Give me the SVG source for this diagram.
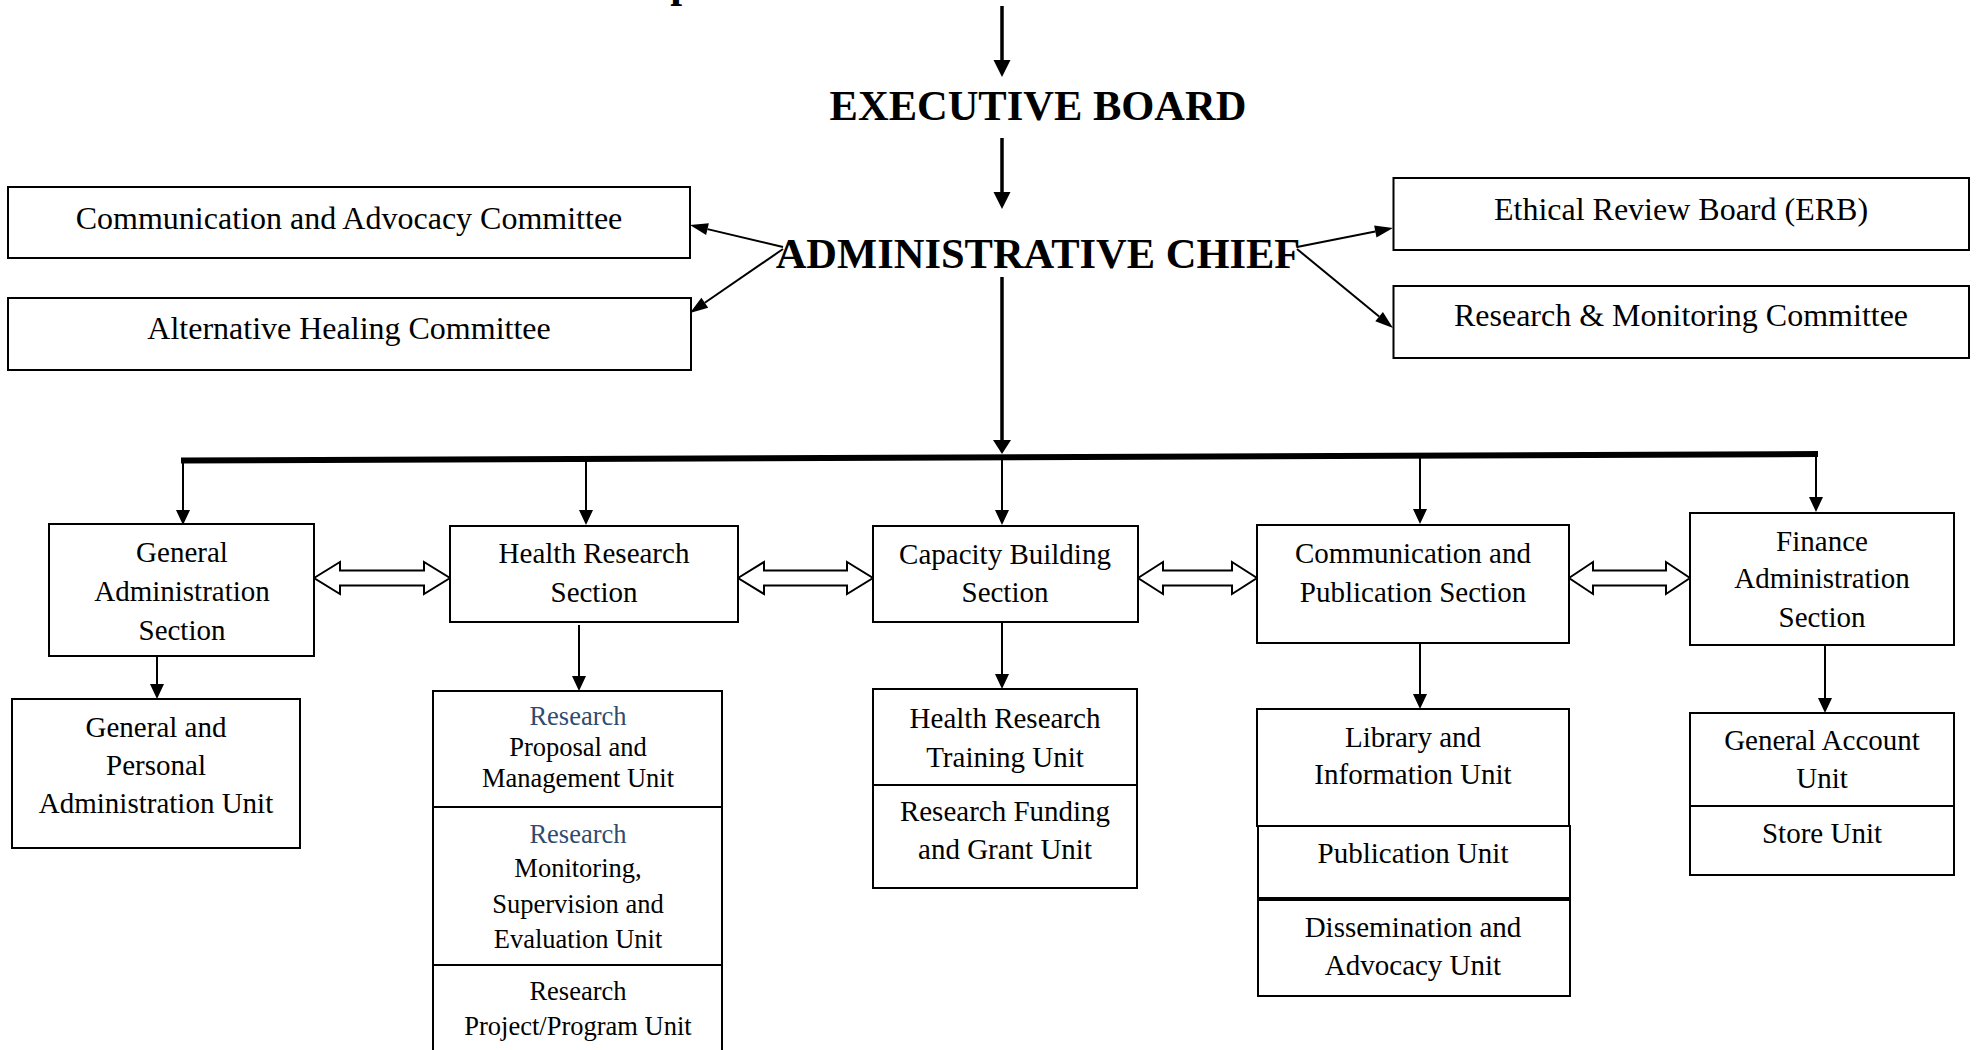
<svg xmlns="http://www.w3.org/2000/svg" width="1981" height="1050" viewBox="0 0 1981 1050">
<defs>
<style>
text{font-family:"Liberation Serif","Times New Roman",serif;fill:#000;text-anchor:middle}
.tb{font-size:42.5px;font-weight:bold}
.t32{font-size:32px}
.t29{font-size:29px}
.t26{font-size:26.5px}
.blue{fill:#2F4B6E}
.box{fill:#fff;stroke:#000;stroke-width:2}
.ln{fill:none;stroke:#000;stroke-width:2}
.lnk{fill:none;stroke:#000;stroke-width:3.5}
.bar{fill:none;stroke:#000;stroke-width:6}
.dbl{fill:#fff;stroke:#000;stroke-width:2;stroke-linejoin:miter}
</style>
<marker id="ah" markerUnits="userSpaceOnUse" viewBox="0 0 15 14" markerWidth="15" markerHeight="14" refX="0" refY="7" orient="auto" overflow="visible"><path d="M0,0 L15,7 L0,14 z" fill="#000"/></marker>
<marker id="ahd" markerUnits="userSpaceOnUse" viewBox="0 0 18 12" markerWidth="18" markerHeight="12" refX="0" refY="6" orient="auto" overflow="visible"><path d="M0,0 L18,6 L0,12 z" fill="#000"/></marker>
<marker id="ahk" markerUnits="userSpaceOnUse" viewBox="0 0 17 17" markerWidth="17" markerHeight="17" refX="0" refY="8.5" orient="auto" overflow="visible"><path d="M0,0 L17,8.5 L0,17 z" fill="#000"/></marker>
<marker id="ahm" markerUnits="userSpaceOnUse" viewBox="0 0 14 18" markerWidth="14" markerHeight="18" refX="0" refY="9" orient="auto" overflow="visible"><path d="M0,0 L14,9 L0,18 z" fill="#000"/></marker>
</defs>

<text class="tb" x="682" y="-3">p</text>

<g id="connectors">
<path class="lnk" d="M1002,6 V60" marker-end="url(#ahk)"/>
<path class="lnk" d="M1002,138 V192" marker-end="url(#ahk)"/>
<path class="lnk" d="M1002,277 V440" marker-end="url(#ahm)"/>
<path class="ln" d="M783,247 L707.5,229.1" marker-end="url(#ahd)"/>
<path class="ln" d="M783,249 L704.8,302.8" marker-end="url(#ahd)"/>
<path class="ln" d="M1297,247 L1375.3,231.5" marker-end="url(#ahd)"/>
<path class="ln" d="M1297,249 L1379.1,316.6" marker-end="url(#ahd)"/>
<path class="bar" d="M181,460.5 L1818,454"/>
<path class="ln" d="M183,460 V510" marker-end="url(#ah)"/>
<path class="ln" d="M586,459 V510" marker-end="url(#ah)"/>
<path class="ln" d="M1002,457 V510" marker-end="url(#ah)"/>
<path class="ln" d="M1420,455 V509" marker-end="url(#ah)"/>
<path class="ln" d="M1816,453 V497" marker-end="url(#ah)"/>
<path class="ln" d="M157,656 V684" marker-end="url(#ah)"/>
<path class="ln" d="M579,625 V676" marker-end="url(#ah)"/>
<path class="ln" d="M1002,622 V674" marker-end="url(#ah)"/>
<path class="ln" d="M1420,643 V694" marker-end="url(#ah)"/>
<path class="ln" d="M1825,645 V698" marker-end="url(#ah)"/>
<polygon class="dbl" points="314,578 340,562 340,570.5 424,570.5 424,562 450,578 424,594 424,585.5 340,585.5 340,594"/>
<polygon class="dbl" points="738,578 764,562 764,570.5 847,570.5 847,562 873,578 847,594 847,585.5 764,585.5 764,594"/>
<polygon class="dbl" points="1138,578 1163,562 1163,570.5 1232,570.5 1232,562 1257,578 1232,594 1232,585.5 1163,585.5 1163,594"/>
<polygon class="dbl" points="1569,578 1593,562 1593,570.5 1666,570.5 1666,562 1690,578 1666,594 1666,585.5 1593,585.5 1593,594"/>
</g>

<g id="executive-board">
<text class="tb" x="1038" y="120">EXECUTIVE BOARD</text>
</g>
<g id="administrative-chief">
<text class="tb" x="1038" y="268">ADMINISTRATIVE CHIEF</text>
</g>

<g id="comm-advocacy-committee">
<rect class="box" x="8" y="187" width="682" height="71"/>
<text class="t32" x="349" y="229">Communication and Advocacy Committee</text>
</g>
<g id="alt-healing-committee">
<rect class="box" x="8" y="298" width="683" height="72"/>
<text class="t32" x="349" y="339">Alternative Healing Committee</text>
</g>
<g id="erb">
<rect class="box" x="1393.5" y="178" width="575.5" height="72"/>
<text class="t32" x="1681" y="220">Ethical Review Board (ERB)</text>
</g>
<g id="research-monitoring-committee">
<rect class="box" x="1393.5" y="286" width="575.5" height="72"/>
<text class="t32" x="1681" y="326">Research &amp; Monitoring Committee</text>
</g>

<g id="general-admin-section">
<rect class="box" x="49" y="524" width="265" height="132"/>
<text class="t29" x="182" y="562">General</text>
<text class="t29" x="182" y="601">Administration</text>
<text class="t29" x="182" y="640">Section</text>
</g>
<g id="health-research-section">
<rect class="box" x="450" y="526" width="288" height="96"/>
<text class="t29" x="594" y="563">Health Research</text>
<text class="t29" x="594" y="602">Section</text>
</g>
<g id="capacity-building-section">
<rect class="box" x="873" y="526" width="265" height="96"/>
<text class="t29" x="1005" y="564">Capacity Building</text>
<text class="t29" x="1005" y="602">Section</text>
</g>
<g id="comm-publication-section">
<rect class="box" x="1257" y="525" width="312" height="118"/>
<text class="t29" x="1413" y="563">Communication and</text>
<text class="t29" x="1413" y="602">Publication Section</text>
</g>
<g id="finance-admin-section">
<rect class="box" x="1690" y="513" width="264" height="132"/>
<text class="t29" x="1822" y="551">Finance</text>
<text class="t29" x="1822" y="588">Administration</text>
<text class="t29" x="1822" y="627">Section</text>
</g>

<g id="general-personal-admin-unit">
<rect class="box" x="12" y="699" width="288" height="149"/>
<text class="t29" x="156" y="737">General and</text>
<text class="t29" x="156" y="775">Personal</text>
<text class="t29" x="156" y="813">Administration Unit</text>
</g>

<g id="health-research-units">
<rect class="box" x="433" y="691" width="289" height="380"/>
<line class="ln" x1="433" y1="807" x2="722" y2="807"/>
<line class="ln" x1="433" y1="965" x2="722" y2="965"/>
<text class="t26 blue" x="578" y="725">Research</text>
<text class="t26" x="578" y="756">Proposal and</text>
<text class="t26" x="578" y="787">Management Unit</text>
<text class="t26 blue" x="578" y="843">Research</text>
<text class="t26" x="578" y="877">Monitoring,</text>
<text class="t26" x="578" y="913">Supervision and</text>
<text class="t26" x="578" y="948">Evaluation Unit</text>
<text class="t26" x="578" y="1000">Research</text>
<text class="t26" x="578" y="1035">Project/Program Unit</text>
</g>

<g id="capacity-building-units">
<rect class="box" x="873" y="689" width="264" height="199"/>
<line class="ln" x1="873" y1="785" x2="1137" y2="785"/>
<text class="t29" x="1005" y="728">Health Research</text>
<text class="t29" x="1005" y="767">Training Unit</text>
<text class="t29" x="1005" y="821">Research Funding</text>
<text class="t29" x="1005" y="859">and Grant Unit</text>
</g>

<g id="comm-publication-units">
<rect class="box" x="1257" y="709" width="312" height="117"/>
<rect class="box" x="1258" y="826" width="312" height="72"/>
<rect class="box" x="1258" y="900" width="312" height="96"/>
<text class="t29" x="1413" y="747">Library and</text>
<text class="t29" x="1413" y="784">Information Unit</text>
<text class="t29" x="1413" y="863">Publication Unit</text>
<text class="t29" x="1413" y="937">Dissemination and</text>
<text class="t29" x="1413" y="975">Advocacy Unit</text>
</g>

<g id="finance-units">
<rect class="box" x="1690" y="713" width="264" height="162"/>
<line class="ln" x1="1690" y1="806" x2="1954" y2="806"/>
<text class="t29" x="1822" y="750">General Account</text>
<text class="t29" x="1822" y="788">Unit</text>
<text class="t29" x="1822" y="843">Store Unit</text>
</g>
</svg>
